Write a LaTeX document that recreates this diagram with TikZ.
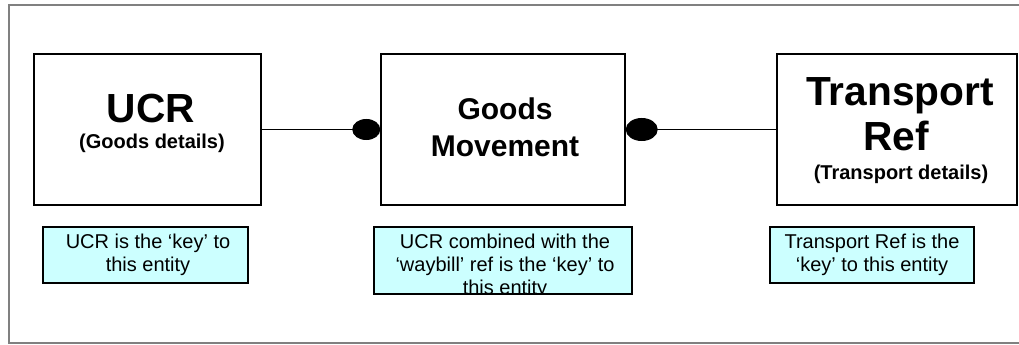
\documentclass[tikz,border=0pt]{standalone}
\usepackage{fontspec}
\setmainfont{Liberation Sans}
\usetikzlibrary{arrows.meta}
\definecolor{bleuclair}{HTML}{CCFFFF}

\begin{document}
\begin{tikzpicture}[x=0.75pt,y=-0.75pt]
% Styles
\tikzstyle{cadre}=[gray,line width=0.8pt]
\tikzstyle{entite}=[draw,line width=1.1pt,inner sep=0pt,minimum height=113.25pt]
\tikzstyle{cle}=[draw,line width=1.1pt,fill=bleuclair,inner sep=0pt]
\tikzstyle{lien}=[line width=0.8pt]
\tikzstyle{grand}=[font=\fontsize{30.5}{36}\selectfont\bfseries,anchor=base,inner sep=0pt]
\tikzstyle{moyen}=[font=\fontsize{22.5}{27}\selectfont\bfseries,anchor=base,inner sep=0pt]
\tikzstyle{petit}=[font=\fontsize{15}{18}\selectfont\bfseries,anchor=base,inner sep=0pt]
\tikzstyle{note}=[font=\fontsize{15}{17.25}\selectfont,align=center,inner sep=0pt]
% Dimensions
\def\lienY{129.5}
\def\cleY{255}
% Zone visible
\clip (0,0) rectangle (1019,345);
% Encadrement
\draw[cadre] (9,5) rectangle (1040,343);
% Entites
\node[entite,minimum width=170.25pt] (ucr) at (147.5,\lienY) {};
\node[entite,minimum width=183pt] (gm) at (503,\lienY) {};
\node[entite,minimum width=180pt] (tp) at (897,\lienY) {};
% Titres
\node[grand] (ucrT) at (151,123) {UCR};
\node[petit] (ucrS) at (152,149) {(Goods details)};
\node[moyen] (gmT1) at (505,120) {Goods};
\node[moyen] (gmT2) at (505,157) {Movement};
\node[grand] (tpT1) at (900,106) {Transport};
\node[grand] (tpT2) at (896,151) {Ref};
\node[petit] (tpS) at (901,180) {(Transport details)};
% Liens
\draw[lien,-{Circle[length=21pt,width=15.75pt]}] (ucr) -- (gm);
\draw[lien,{Circle[length=24pt,width=17.25pt]}-] (gm) -- (tp);
% Cles
\node[cle,minimum width=153.75pt,minimum height=42pt] (ucrC) at (145.5,\cleY) {};
\node[note] (ucrN) at (148,255) {UCR is the ‘key’ to\\this entity};
\node[cle,minimum width=193.5pt,minimum height=50.25pt] (gmC) at (503,260.5) {};
\begin{scope}
\clip (gmC.south west) rectangle (gmC.north east);
\node[note] (gmN) at (505,266) {UCR combined with the\\‘waybill’ ref is the ‘key’ to\\this entity};
\end{scope}
\draw[line width=1.1pt] (gmC.south west) rectangle (gmC.north east);
\node[cle,minimum width=153pt,minimum height=42pt] (tpC) at (872,\cleY) {};
\node[note] (tpN) at (872,255) {Transport Ref is the\\‘key’ to this entity};
\end{tikzpicture}
\end{document}
